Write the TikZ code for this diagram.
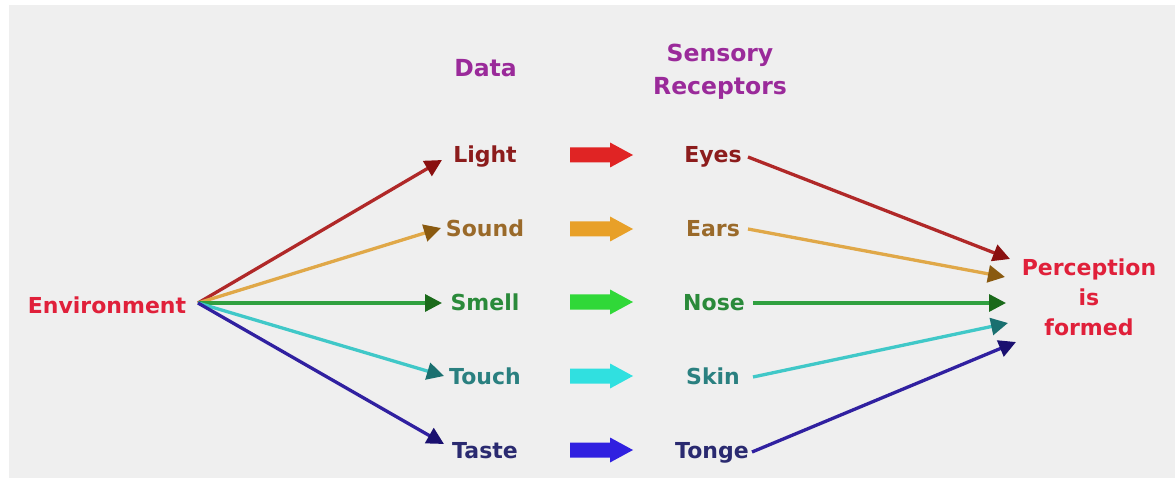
\documentclass[tikz,border=0pt]{standalone}
\usepackage{fontspec}
\setmainfont{DejaVu Sans}
\usetikzlibrary{arrows.meta}

% text colours
\definecolor{bgcol}{HTML}{EFEFEF}
\definecolor{headcol}{HTML}{9A2A9A}
\definecolor{envcol}{HTML}{E0203A}
\definecolor{tlight}{HTML}{8C1C1C}
\definecolor{tsound}{HTML}{9A6A2A}
\definecolor{tsmell}{HTML}{2A8A3A}
\definecolor{ttouch}{HTML}{2A8080}
\definecolor{ttaste}{HTML}{2A2A70}
% connector line and tip colours
\definecolor{llight}{HTML}{B02828}\definecolor{hlight}{HTML}{8A1010}
\definecolor{lsound}{HTML}{E0A848}\definecolor{hsound}{HTML}{8A5A10}
\definecolor{lsmell}{HTML}{30A040}\definecolor{hsmell}{HTML}{1A6A1A}
\definecolor{ltouch}{HTML}{40C8C8}\definecolor{htouch}{HTML}{1A7070}
\definecolor{ltaste}{HTML}{3020A0}\definecolor{htaste}{HTML}{1A1070}
% block arrow colours
\definecolor{flight}{HTML}{E02424}
\definecolor{fsound}{HTML}{E8A028}
\definecolor{fsmell}{HTML}{30D838}
\definecolor{ftouch}{HTML}{30E0E0}
\definecolor{ftaste}{HTML}{3020E0}

\tikzset{
  lbl/.style={inner sep=0pt, anchor=base, font=\bfseries\fontsize{22}{30}\selectfont},
  hdr/.style={inner sep=0pt, anchor=base, align=center, text=headcol,
              font=\bfseries\fontsize{23.5}{33}\selectfont},
  link/.style args={#1/#2}{draw=#1, line width=3.3pt,
              -{Triangle[length=17pt,width=17pt,color=#2]}},
  pics/fatarrow/.style={code={
      \fill[#1] (0,-7.5) -- (40,-7.5) -- (40,-12.5) -- (63,0) -- (40,12.5)
                -- (40,7.5) -- (0,7.5) -- cycle;}}
}

\begin{document}
\begin{tikzpicture}[x=1pt,y=-1pt]
  \useasboundingbox (0,0) rectangle (1175,478);
  \fill[bgcol] (9,5) rectangle (1175,478);

  % column headings (a multi-line node sits on its last baseline)
  \node[hdr] (data) at (485.5,77) {Data};
  \node[hdr] (recep) at (720,95) {Sensory\\Receptors};

  % source and result
  \node[lbl, text=envcol] (env) at (107,313) {Environment};
  \node[lbl, text=envcol, align=center] (perc) at (1089,335) {Perception\\is\\formed};

  % stimuli
  \node[lbl, text=tlight] (light) at (485,163) {Light};
  \node[lbl, text=tsound] (sound) at (485,237) {Sound};
  \node[lbl, text=tsmell] (smell) at (485,311) {Smell};
  \node[lbl, text=ttouch] (touch) at (485,384) {Touch};
  \node[lbl, text=ttaste] (taste) at (485,458) {Taste};

  % receptors
  \node[lbl, text=tlight] (eyes)  at (713,163) {Eyes};
  \node[lbl, text=tsound] (ears)  at (713,237) {Ears};
  \node[lbl, text=tsmell] (nose)  at (714,311) {Nose};
  \node[lbl, text=ttouch] (skin)  at (713,384) {Skin};
  \node[lbl, text=ttaste] (tonge) at (712,458) {Tonge};

  % block arrows between the columns
  \pic at (570,155) {fatarrow=flight};
  \pic at (570,229) {fatarrow=fsound};
  \pic at (570,302) {fatarrow=fsmell};
  \pic at (570,376) {fatarrow=ftouch};
  \pic at (570,450) {fatarrow=ftaste};

  % connector end points
  \coordinate (hub) at (198,303);
  \coordinate (inLight) at (442,160);
  \coordinate (inSound) at (441,228);
  \coordinate (inSmell) at (442,303);
  \coordinate (inTouch) at (444,376);
  \coordinate (inTaste) at (444,444);
  \coordinate (outEyes)  at (748,157);
  \coordinate (outEars)  at (748,229);
  \coordinate (outNose)  at (753,303);
  \coordinate (outSkin)  at (753,377);
  \coordinate (outTonge) at (752,452);
  \coordinate (pEyes)  at (1010,259);
  \coordinate (pEars)  at (1005,277);
  \coordinate (pNose)  at (1006,303);
  \coordinate (pSkin)  at (1008,323);
  \coordinate (pTonge) at (1016,342);

  % environment to stimuli
  \draw[link=llight/hlight] (hub) -- (inLight);
  \draw[link=lsound/hsound] (hub) -- (inSound);
  \draw[link=lsmell/hsmell] (hub) -- (inSmell);
  \draw[link=ltouch/htouch] (hub) -- (inTouch);
  \draw[link=ltaste/htaste] (hub) -- (inTaste);

  % receptors to perception
  \draw[link=llight/hlight] (outEyes)  -- (pEyes);
  \draw[link=lsound/hsound] (outEars)  -- (pEars);
  \draw[link=lsmell/hsmell] (outNose)  -- (pNose);
  \draw[link=ltouch/htouch] (outSkin)  -- (pSkin);
  \draw[link=ltaste/htaste] (outTonge) -- (pTonge);
\end{tikzpicture}
\end{document}
